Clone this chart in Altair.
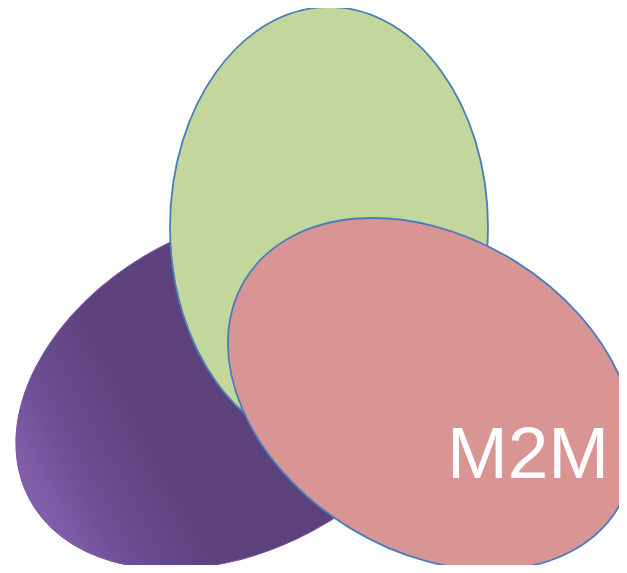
import altair as alt
import pandas as pd

# ---- values (pixel coordinates of the picture) ----
names = ["purple", "green", "pink"]
center_x = [235, 329, 431.5]
center_y = [389.8, 227, 394]
radius_x = [232.7, 159, 218.6]
radius_y = [161.1, 220, 156.9]
rotation = [332.1, 0, 31.6]

label_text = ["M2M"]
label_x = [528]
label_y = [478]

W, H = 611, 557
K = 0.5523


def ellipse_path(a, b):
    s = max(a, b)
    u, v = a / s, b / s
    f = lambda t: f"{t:.4f}"
    return (
        f"M {f(u)} 0 C {f(u)} {f(K*v)} {f(K*u)} {f(v)} 0 {f(v)} "
        f"C {f(-K*u)} {f(v)} {f(-u)} {f(K*v)} {f(-u)} 0 "
        f"C {f(-u)} {f(-K*v)} {f(-K*u)} {f(-v)} 0 {f(-v)} "
        f"C {f(K*u)} {f(-v)} {f(u)} {f(-K*v)} {f(u)} 0 Z"
    )


rows = []
for i, n in enumerate(names):
    s = max(radius_x[i], radius_y[i])
    rows.append(dict(name=n, x=center_x[i], y=center_y[i],
                     size=4 * s * s, angle=rotation[i]))
df = pd.DataFrame(rows)

xs = alt.Scale(domain=[8, 8 + W], nice=False, zero=False)
ys = alt.Scale(domain=[8, 8 + H], nice=False, zero=False, reverse=True)
X = alt.X("x:Q", scale=xs, axis=None)
Y = alt.Y("y:Q", scale=ys, axis=None)

purple_fill = alt.Gradient(
    gradient="linear",
    stops=[alt.GradientStop(color="#8460AE", offset=0),
           alt.GradientStop(color="#6C4E92", offset=0.13),
           alt.GradientStop(color="#5D417C", offset=0.3),
           alt.GradientStop(color="#5D417C", offset=1)],
    x1=0, x2=1, y1=0.5, y2=0.5,
)

layers = []
styles = {
    "purple": dict(fill=purple_fill, stroke="#7A5BA0", strokeWidth=1),
    "green": dict(fill="#C3D69B", stroke="#4A7EBB", strokeWidth=1.8),
    "pink": dict(fill="#D99594", stroke="#4A7EBB", strokeWidth=1.8),
}
for i, n in enumerate(names):
    layers.append(
        alt.Chart(df[df.name == n])
        .mark_point(shape=ellipse_path(radius_x[i], radius_y[i]), filled=True,
                    opacity=1, **styles[n])
        .encode(x=X, y=Y,
                size=alt.Size("size:Q", scale=None, legend=None),
                angle=alt.Angle("angle:Q", scale=None))
    )

tdf = pd.DataFrame({"text": label_text, "x": label_x, "y": label_y})
text = alt.Chart(tdf).mark_text(
    font="Liberation Sans", fontSize=73, color="white", align="center",
    baseline="alphabetic"
).encode(x=X, y=Y, text="text:N")

chart = (
    alt.layer(*layers, text)
    .properties(width=W, height=H, padding=0, background="white",
                autosize=alt.AutoSizeParams(type="none"))
    .configure_view(stroke=None)
)

chart.save("out.html", embed_options={"renderer": "svg", "actions": False})
